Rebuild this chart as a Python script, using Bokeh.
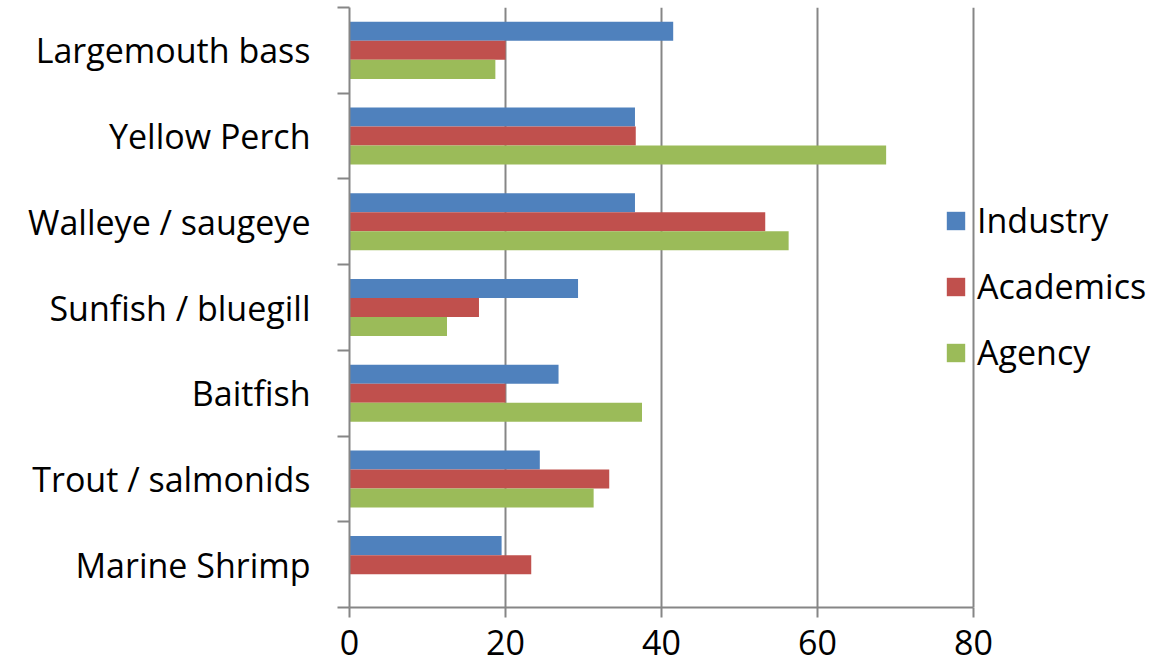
from bokeh.plotting import figure
from bokeh.models import ColumnDataSource, FixedTicker, Range1d, Legend, LegendItem
from bokeh.transform import dodge
from bokeh.embed import file_html
from bokeh.resources import INLINE

categories = ["Largemouth bass", "Yellow Perch", "Walleye / saugeye", "Sunfish / bluegill",
              "Baitfish", "Trout / salmonids", "Marine Shrimp"]
industry = [41.5, 36.6, 36.6, 29.3, 26.8, 24.4, 19.5]
academics = [20.0, 36.7, 53.3, 16.6, 20.0, 33.3, 23.3]
agency = [18.7, 68.8, 56.3, 12.5, 37.5, 31.3, 0.0]
series = ["Industry", "Academics", "Agency"]
colors = ["#4F81BD", "#C0504D", "#9BBB59"]
x_ticks = [0, 20, 40, 60, 80]

n = len(categories)
ypos = [n - i for i in range(n)]
src = ColumnDataSource(dict(y=ypos, cat=categories, Industry=industry,
                            Academics=academics, Agency=agency))

FONT = "Open Sans"
FS = "34px"
GRAY = "#868686"

W, H = 1156, 664
LEFT, TOP, BOTTOM = 349, 7, 57
# the frame runs to the right edge so the legend (which overlaps the 80 line) is not clipped;
# the x scale keeps 0..80 over the 624 px that the reference uses
x_end = 80 * (W - LEFT) / 624.0

p = figure(width=W, height=H, output_backend="svg", toolbar_location=None,
           x_range=Range1d(0, x_end), y_range=Range1d(0.5, n + 0.5),
           min_border_left=LEFT, min_border_right=0, min_border_top=TOP,
           min_border_bottom=BOTTOM)
p.outline_line_color = None

bh = 0.222
offsets = [bh, 0.0, -bh]
items = []
for s, c, off in zip(series, colors, offsets):
    r = p.hbar(y=dodge("y", off), right=s, left=0, height=bh, source=src,
               fill_color=c, line_color=None)
    items.append(LegendItem(label=s, renderers=[r]))

# x axis
xa = p.xaxis[0]
xa.ticker = FixedTicker(ticks=x_ticks)
xa.bounds = (0, 80)
xa.axis_line_color = GRAY
xa.axis_line_width = 2
xa.major_tick_line_color = GRAY
xa.major_tick_line_width = 2
xa.major_tick_out = 10
xa.major_tick_in = 0
xa.minor_tick_line_color = None
xa.major_label_standoff = 12
xa.major_label_text_font = FONT
xa.major_label_text_font_size = FS
xa.major_label_text_color = "black"

# y axis: labels at category centres, ticks at category boundaries
ya = p.yaxis[0]
ya.ticker = FixedTicker(ticks=ypos, minor_ticks=[k + 0.5 for k in range(n + 1)])
ya.major_label_overrides = {y: c for y, c in zip(ypos, categories)}
ya.axis_line_color = GRAY
ya.axis_line_width = 2
ya.major_tick_line_color = None
ya.major_tick_out = 0
ya.major_tick_in = 0
ya.minor_tick_line_color = GRAY
ya.minor_tick_line_width = 2
ya.minor_tick_out = 12
ya.minor_tick_in = 0
ya.major_label_standoff = 27
ya.major_label_text_font = FONT
ya.major_label_text_font_size = FS
ya.major_label_text_color = "black"

p.xgrid.grid_line_color = GRAY
p.xgrid.grid_line_width = 2
p.xgrid.ticker = FixedTicker(ticks=x_ticks)
p.ygrid.grid_line_color = None

legend = Legend(items=items, location=(595, 232), orientation="vertical",
                padding=0, margin=0, spacing=20, glyph_width=23, glyph_height=23,
                label_height=23, label_standoff=10, border_line_color=None,
                background_fill_alpha=0, label_text_font=FONT,
                label_text_font_size=FS, label_text_color="black")
p.add_layout(legend, "center")

open("out.html", "w").write(file_html(p, INLINE))
